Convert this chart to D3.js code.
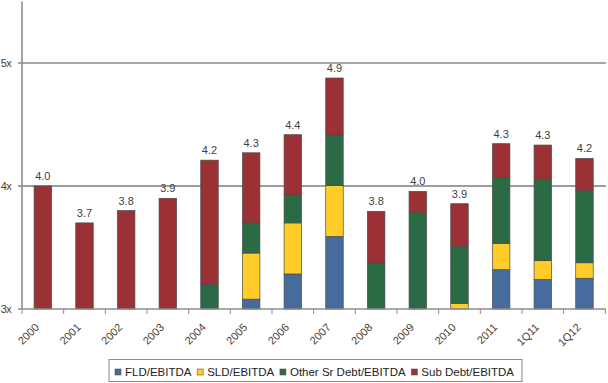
<!DOCTYPE html>
<html>
<head>
<meta charset="utf-8">
<script src="https://cdn.jsdelivr.net/npm/d3@7"></script>
<style>
  html, body { margin: 0; padding: 0; background: #fff; }
  svg { display: block; font-family: "Liberation Sans", Arial, sans-serif; }
</style>
</head>
<body>
<svg id="chart" width="608" height="383"></svg>
<script>
const categories = ["2000","2001","2002","2003","2004","2005","2006","2007","2008","2009","2010","2011","1Q11","1Q12"];
const fld      = [0, 0, 0, 0, 0, 3.08, 3.285, 3.59, 0, 0, 0, 3.32, 3.24, 3.25];
const sld      = [0, 0, 0, 0, 0, 0.375, 0.415, 0.415, 0, 0, 3.046, 0.213, 0.153, 0.126];
const otherSr  = [0, 0, 0, 0, 3.2, 0.245, 0.227, 0.41, 3.374, 3.783, 0.463, 0.537, 0.661, 0.586];
const subDebt  = [4.0, 3.7, 3.8, 3.9, 1.01, 0.57, 0.49, 0.463, 0.42, 0.173, 0.347, 0.274, 0.279, 0.262];
const totalLabels = ["4.0","3.7","3.8","3.9","4.2","4.3","4.4","4.9","3.8","4.0","3.9","4.3","4.3","4.2"];
const seriesNames = ["FLD/EBITDA", "SLD/EBITDA", "Other Sr Debt/EBITDA", "Sub Debt/EBITDA"];
const yTicks = [3, 4, 5];
const yTickLabels = ["3x", "4x", "5x"];

const colors = ["#456C9C", "#FFCC29", "#2A6B45", "#9B3135"];
const keys = ["fld", "sld", "other", "sub"];

const rows = categories.map((c, i) => ({ cat: c, fld: fld[i], sld: sld[i], other: otherSr[i], sub: subDebt[i] }));
const stacked = d3.stack().keys(keys)(rows);

const svg = d3.select("#chart");
const x = d3.scaleBand().domain(categories).range([22, 605.3]).paddingInner(0.58).paddingOuter(0.29);
const y = d3.scaleLinear().domain([3, 5.5]).range([309, 1.5]).clamp(true);
const step = x.step();

// gridlines
svg.append("line").attr("x1", 18).attr("x2", 606).attr("y1", y(5)).attr("y2", y(5))
  .attr("stroke", "#8a8a8a").attr("stroke-width", 1.4);
svg.append("line").attr("x1", 18).attr("x2", 606).attr("y1", y(4)).attr("y2", y(4))
  .attr("stroke", "#3a3a3a").attr("stroke-width", 1);

// bars
const g = svg.append("g");
stacked.forEach((layer, li) => {
  layer.forEach((d, i) => {
    const y0 = y(d[0]), y1 = y(d[1]);
    if (y0 - y1 < 0.5) return;
    g.append("rect")
      .attr("x", x(categories[i]))
      .attr("y", y1)
      .attr("width", x.bandwidth())
      .attr("height", y0 - y1)
      .attr("fill", colors[li])
      .attr("stroke", "#4a4a4a")
      .attr("stroke-width", 0.7);
  });
});

// value labels
const totals = rows.map(r => r.fld + r.sld + r.other + r.sub);
svg.append("g").selectAll("text").data(categories).join("text")
  .attr("x", d => x(d) + x.bandwidth() / 2)
  .attr("y", (d, i) => y(totals[i]) - 6)
  .attr("text-anchor", "middle")
  .attr("font-size", 11)
  .attr("fill", "#404040")
  .text((d, i) => totalLabels[i]);

// y axis
svg.append("line").attr("x1", 22).attr("x2", 22).attr("y1", 1.5).attr("y2", 309)
  .attr("stroke", "#8c8c8c").attr("stroke-width", 1.6);
svg.append("g").selectAll("text").data(yTicks).join("text")
  .attr("x", 11).attr("y", d => y(d) + 4)
  .attr("text-anchor", "end")
  .attr("font-size", 11)
  .attr("letter-spacing", -0.7)
  .attr("fill", "#4a3e34")
  .text((d, i) => yTickLabels[i]);

// x axis
svg.append("line").attr("x1", 18).attr("x2", 606).attr("y1", 309).attr("y2", 309)
  .attr("stroke", "#8c8c8c").attr("stroke-width", 1.4);
const bounds = d3.range(categories.length + 1).map(i => x.range()[0] + i * step);
svg.append("g").selectAll("line").data(bounds).join("line")
  .attr("x1", d => d).attr("x2", d => d).attr("y1", 309).attr("y2", 314)
  .attr("stroke", "#8c8c8c").attr("stroke-width", 1);
svg.append("g").selectAll("text").data(categories).join("text")
  .attr("transform", d => `translate(${x(d) + x.bandwidth() / 2 - 3},${328}) rotate(-45)`)
  .attr("text-anchor", "end")
  .attr("font-size", 11)
  .attr("fill", "#4a3e34")
  .text(d => d);

// legend
const leg = svg.append("g");
const boxL = 109, boxR = 522;
const box = leg.append("rect").attr("x", boxL).attr("y", 359.5).attr("width", boxR - boxL).attr("height", 22)
  .attr("fill", "#fff").attr("stroke", "#8a8a8a").attr("stroke-width", 1);
const items = seriesNames.map((name, i) => {
  const sq = leg.append("rect").attr("y", 369).attr("width", 6).attr("height", 6)
    .attr("fill", colors[i]).attr("stroke", "#555").attr("stroke-width", 0.6);
  const t = leg.append("text").attr("y", 375.5)
    .attr("font-size", 11.5).attr("fill", "#222").text(name);
  return { sq, t, w: t.node().getComputedTextLength() };
});
const sumW = d3.sum(items, d => d.w);
const gap = ((boxR - 8) - (boxL + 6) - sumW - items.length * 10) / (items.length - 1);
let lx = boxL + 6;
items.forEach(it => {
  it.sq.attr("x", lx);
  it.t.attr("x", lx + 10);
  lx += 10 + it.w + gap;
});
</script>
</body>
</html>
